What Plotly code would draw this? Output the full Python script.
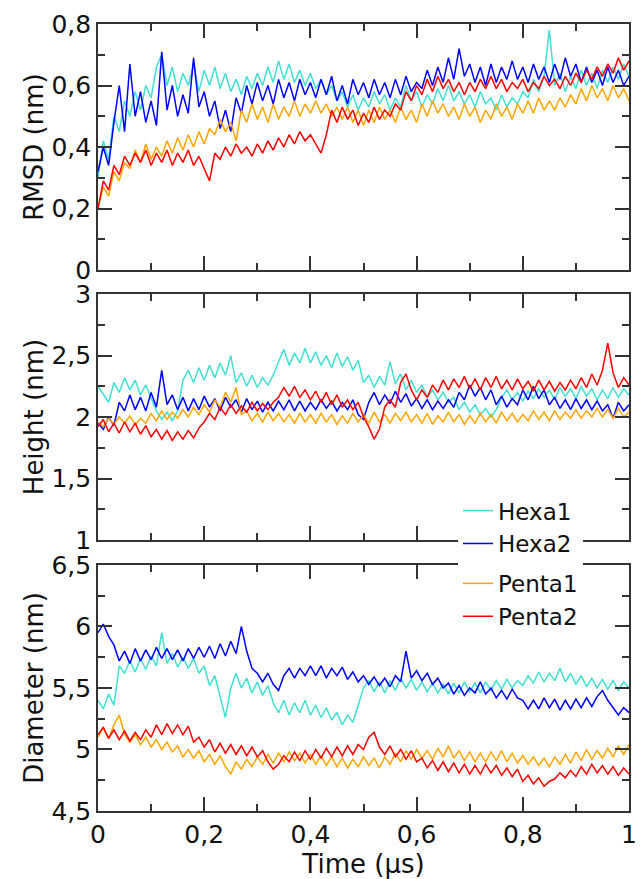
import plotly.graph_objects as go

time_us = [round(i * 0.01, 2) for i in range(101)]

rmsd_hexa1 = [0.30,0.42,0.36,0.50,0.45,0.55,0.50,0.58,0.52,0.60,0.56,0.66,0.70,0.60,0.66,0.58,0.64,0.60,0.67,0.58,
              0.65,0.60,0.66,0.59,0.64,0.58,0.62,0.57,0.63,0.59,0.64,0.60,0.66,0.61,0.68,0.62,0.67,0.61,0.65,0.60,
              0.64,0.59,0.62,0.57,0.60,0.55,0.58,0.53,0.57,0.52,0.56,0.53,0.58,0.54,0.57,0.52,0.56,0.53,0.60,0.55,
              0.58,0.53,0.57,0.54,0.59,0.55,0.60,0.55,0.58,0.54,0.57,0.53,0.58,0.54,0.56,0.52,0.57,0.53,0.56,0.54,
              0.58,0.56,0.62,0.58,0.63,0.78,0.60,0.64,0.58,0.63,0.59,0.65,0.60,0.64,0.59,0.65,0.61,0.66,0.62,0.67,0.63]
rmsd_hexa2 = [0.32,0.40,0.34,0.48,0.60,0.45,0.67,0.50,0.58,0.48,0.55,0.47,0.71,0.52,0.60,0.50,0.57,0.51,0.69,0.53,
              0.58,0.50,0.55,0.46,0.52,0.45,0.56,0.51,0.60,0.54,0.61,0.55,0.60,0.54,0.62,0.56,0.61,0.55,0.62,0.57,
              0.61,0.56,0.62,0.57,0.63,0.55,0.60,0.54,0.62,0.57,0.61,0.56,0.62,0.57,0.61,0.56,0.62,0.57,0.63,0.58,
              0.61,0.59,0.65,0.60,0.66,0.61,0.69,0.62,0.72,0.63,0.67,0.61,0.66,0.60,0.67,0.61,0.66,0.62,0.68,0.62,
              0.66,0.61,0.67,0.62,0.66,0.61,0.67,0.62,0.69,0.63,0.67,0.61,0.66,0.61,0.65,0.60,0.66,0.61,0.65,0.60,0.63]
rmsd_penta1 = [0.20,0.27,0.24,0.32,0.29,0.35,0.33,0.39,0.35,0.41,0.36,0.40,0.37,0.42,0.38,0.43,0.39,0.44,0.40,0.45,
               0.41,0.46,0.44,0.49,0.45,0.48,0.42,0.52,0.48,0.54,0.49,0.53,0.48,0.54,0.49,0.53,0.50,0.55,0.50,0.54,
               0.51,0.55,0.51,0.54,0.50,0.53,0.49,0.53,0.48,0.52,0.47,0.52,0.48,0.53,0.49,0.52,0.48,0.53,0.49,0.52,
               0.48,0.54,0.50,0.55,0.51,0.54,0.50,0.53,0.49,0.54,0.50,0.53,0.48,0.52,0.49,0.54,0.50,0.53,0.49,0.54,
               0.51,0.55,0.51,0.56,0.52,0.55,0.52,0.56,0.53,0.57,0.54,0.59,0.55,0.60,0.56,0.59,0.55,0.60,0.56,0.59,0.55]
rmsd_penta2 = [0.20,0.29,0.26,0.34,0.31,0.37,0.34,0.38,0.35,0.39,0.34,0.38,0.35,0.39,0.34,0.38,0.35,0.39,0.34,0.37,
               0.33,0.29,0.38,0.36,0.40,0.37,0.41,0.38,0.40,0.37,0.41,0.38,0.42,0.39,0.43,0.40,0.44,0.41,0.45,0.42,
               0.44,0.41,0.38,0.44,0.52,0.48,0.53,0.49,0.52,0.47,0.51,0.48,0.53,0.49,0.52,0.50,0.54,0.52,0.58,0.55,
               0.60,0.57,0.62,0.58,0.63,0.59,0.62,0.58,0.61,0.57,0.61,0.58,0.62,0.59,0.63,0.59,0.62,0.58,0.61,0.59,
               0.62,0.58,0.61,0.59,0.63,0.60,0.62,0.59,0.63,0.60,0.64,0.61,0.65,0.62,0.66,0.63,0.67,0.64,0.69,0.65,0.68]

height_hexa1 = [2.25,2.18,2.12,2.28,2.20,2.32,2.22,2.30,2.18,2.26,2.15,2.05,1.98,2.04,1.97,2.05,2.30,2.38,2.28,2.40,
                2.30,2.42,2.32,2.44,2.34,2.50,2.28,2.36,2.25,2.34,2.24,2.32,2.26,2.34,2.45,2.55,2.42,2.52,2.44,2.56,
                2.44,2.53,2.42,2.50,2.40,2.52,2.41,2.49,2.38,2.46,2.28,2.34,2.24,2.33,2.26,2.45,2.27,2.35,2.22,2.30,
                2.20,2.26,2.16,2.22,2.14,2.20,2.12,2.16,2.06,2.12,2.04,2.10,2.02,2.07,2.00,2.06,2.16,2.22,2.14,2.20,
                2.13,2.21,2.15,2.23,2.16,2.22,2.14,2.24,2.17,2.23,2.15,2.25,2.17,2.23,2.14,2.22,2.15,2.24,2.16,2.23,2.18]
height_hexa2 = [1.95,1.90,2.00,1.93,2.12,2.05,2.18,2.06,2.16,2.05,2.20,2.08,2.38,2.10,2.18,2.06,2.16,2.05,2.15,2.06,
                2.17,2.08,2.15,2.05,2.16,2.08,2.14,2.04,2.15,2.06,2.13,2.04,2.12,2.05,2.13,2.06,2.14,2.05,2.13,2.05,
                2.12,2.06,2.14,2.07,2.13,2.05,2.12,2.06,2.14,2.02,1.98,2.12,2.20,2.10,2.18,2.11,2.21,2.12,2.19,2.09,
                2.15,2.07,2.14,2.06,2.13,2.07,2.14,2.08,2.20,2.14,2.26,2.17,2.24,2.14,2.22,2.10,2.17,2.08,2.15,2.10,
                2.22,2.14,2.25,2.15,2.22,2.10,2.16,2.07,2.14,2.06,2.15,2.07,2.14,2.06,2.13,2.05,2.10,1.99,2.12,2.05,2.10]
height_penta1 = [1.96,1.92,1.99,1.94,2.00,1.95,2.01,1.94,1.99,1.95,2.03,1.97,2.05,1.98,2.04,1.99,2.06,2.00,2.08,2.02,
                 2.10,2.04,2.14,2.08,2.20,2.12,2.24,2.02,2.05,1.97,2.03,1.96,2.04,1.97,2.03,1.96,2.02,1.95,2.03,1.96,
                 2.02,1.95,2.03,1.96,2.02,1.94,2.01,1.95,2.03,1.96,2.02,1.95,2.04,1.96,2.02,1.95,2.03,1.97,2.04,1.96,
                 2.02,1.95,2.03,1.94,2.01,1.96,2.04,1.96,2.02,1.94,2.01,1.95,2.03,1.96,2.02,1.95,2.04,1.97,2.03,1.96,
                 2.02,1.97,2.05,1.98,2.04,1.97,2.05,1.98,2.04,1.99,2.06,1.99,2.05,2.00,2.07,2.00,2.06,1.99,2.07,2.00,2.04]
height_penta2 = [1.92,1.98,1.88,1.95,1.87,1.96,1.88,1.95,1.86,1.93,1.84,1.90,1.82,1.89,1.81,1.88,1.82,1.89,1.83,1.91,
                 1.96,2.03,1.98,2.08,2.02,2.10,2.03,2.09,2.04,2.12,2.05,2.11,2.06,2.12,2.16,2.24,2.17,2.25,2.16,2.22,
                 2.14,2.21,2.12,2.20,2.10,2.18,2.08,2.14,2.06,2.12,2.00,1.92,1.82,1.90,2.08,2.14,2.08,2.28,2.35,2.22,
                 2.14,2.22,2.16,2.26,2.20,2.30,2.22,2.31,2.24,2.33,2.23,2.31,2.22,2.32,2.24,2.33,2.23,2.30,2.22,2.31,
                 2.23,2.29,2.21,2.30,2.22,2.29,2.21,2.28,2.22,2.30,2.23,2.32,2.24,2.35,2.26,2.38,2.60,2.36,2.24,2.32,2.26]

diam_hexa1 = [5.40,5.33,5.45,5.36,5.68,5.62,5.72,5.63,5.74,5.65,5.76,5.68,5.95,5.70,5.78,5.67,5.75,5.66,5.74,5.62,
              5.68,5.52,5.60,5.42,5.26,5.50,5.62,5.50,5.58,5.46,5.55,5.44,5.52,5.38,5.30,5.40,5.28,5.38,5.30,5.40,
              5.28,5.36,5.26,5.34,5.24,5.30,5.20,5.28,5.22,5.36,5.50,5.56,5.47,5.55,5.46,5.56,5.48,5.58,5.50,5.57,
              5.48,5.55,5.47,5.54,5.46,5.53,5.45,5.54,5.46,5.55,5.47,5.54,5.46,5.55,5.48,5.56,5.49,5.57,5.50,5.56,
              5.52,5.60,5.54,5.63,5.55,5.62,5.56,5.66,5.55,5.62,5.53,5.60,5.51,5.58,5.50,5.57,5.49,5.56,5.48,5.55,5.50]
diam_hexa2 = [5.95,6.02,5.92,5.85,5.72,5.80,5.70,5.82,5.72,5.81,5.73,5.83,5.74,5.82,5.73,5.81,5.72,5.82,5.74,5.83,
              5.75,5.84,5.74,5.86,5.76,5.88,5.78,6.00,5.80,5.66,5.62,5.55,5.62,5.53,5.48,5.60,5.66,5.58,5.66,5.60,
              5.68,5.60,5.68,5.58,5.66,5.60,5.67,5.57,5.63,5.55,5.60,5.53,5.59,5.52,5.58,5.51,5.60,5.55,5.80,5.58,
              5.64,5.56,5.62,5.53,5.58,5.50,5.54,5.45,5.52,5.44,5.50,5.46,5.55,5.45,5.50,5.42,5.48,5.41,5.49,5.42,
              5.40,5.33,5.40,5.33,5.42,5.34,5.41,5.32,5.40,5.33,5.41,5.34,5.42,5.35,5.43,5.48,5.40,5.34,5.28,5.34,5.30]
diam_penta1 = [5.10,5.18,5.09,5.20,5.28,5.12,5.06,5.12,5.04,5.10,5.02,5.08,5.00,5.06,4.98,5.03,4.94,5.00,4.93,4.99,
               4.90,4.96,4.88,4.95,4.86,4.80,4.90,4.84,4.92,4.86,4.94,4.88,4.96,4.89,4.97,4.90,4.98,4.91,4.97,4.89,
               4.96,4.88,4.95,4.87,4.94,4.86,4.93,4.85,4.92,4.86,4.94,4.87,4.93,4.85,4.94,4.88,4.97,4.90,4.99,4.92,
               5.00,4.93,4.99,4.92,5.01,4.94,5.03,4.93,4.99,4.91,4.98,4.90,4.97,4.90,4.98,4.91,4.99,4.90,4.97,4.89,
               4.95,4.88,4.94,4.87,4.93,4.86,4.94,4.88,4.96,4.89,4.98,4.91,5.00,4.92,4.99,4.93,5.01,4.94,5.03,4.96,5.04]
diam_penta2 = [5.12,5.18,5.09,5.16,5.08,5.15,5.07,5.14,5.08,5.16,5.10,5.20,5.12,5.21,5.13,5.20,5.12,5.19,5.06,5.10,
               5.02,5.08,4.98,5.05,4.97,5.04,4.96,5.03,4.95,5.02,4.94,4.99,4.90,4.84,4.88,4.95,4.90,4.98,4.91,4.99,
               4.92,5.00,4.93,5.01,4.94,5.02,4.95,5.03,4.96,5.04,5.00,5.10,5.14,5.02,4.96,5.03,4.94,5.00,4.92,4.99,
               4.90,4.93,4.85,4.91,4.83,4.90,4.82,4.89,4.81,4.88,4.80,4.87,4.80,4.88,4.81,4.87,4.79,4.85,4.78,4.84,
               4.74,4.79,4.72,4.77,4.70,4.74,4.76,4.81,4.77,4.83,4.78,4.86,4.80,4.88,4.81,4.87,4.80,4.86,4.79,4.85,4.80]

series_names = ["Hexa1", "Hexa2", "Penta1", "Penta2"]
series_colors = ["#40E0D0", "#0000FF", "#FFA500", "#FF0000"]
groups = ["hexa", "hexa", "penta", "penta"]

panels = [
    ("x3", "y", [rmsd_hexa1, rmsd_hexa2, rmsd_penta1, rmsd_penta2]),
    ("x2", "y2", [height_hexa1, height_hexa2, height_penta1, height_penta2]),
    ("x", "y3", [diam_hexa1, diam_hexa2, diam_penta1, diam_penta2]),
]

fig = go.Figure()
for p, (xax, yax, data) in enumerate(panels):
    for i, ys in enumerate(data):
        fig.add_trace(go.Scatter(
            x=time_us, y=ys, mode="lines", name=series_names[i],
            line=dict(color=series_colors[i], width=1.5),
            xaxis=xax, yaxis=yax, legendgroup=groups[i], showlegend=(p == 0),
        ))

FONT = "DejaVu Sans"
AX_COLOR = "#333"
axis_common = dict(
    showline=True, linecolor=AX_COLOR, linewidth=1.6, mirror="ticks",
    ticks="inside", ticklen=14, tickwidth=1.6, tickcolor=AX_COLOR,
    showgrid=False, zeroline=False,
    tickfont=dict(family=FONT, size=25, color="#111"),
)
xminor = dict(ticks="inside", ticklen=7, dtick=0.1, tick0=0, tickcolor=AX_COLOR, tickwidth=1.6)
yminor_r = dict(ticks="inside", ticklen=7, dtick=0.1, tick0=0, tickcolor=AX_COLOR, tickwidth=1.6)
yminor_h = dict(ticks="inside", ticklen=7, dtick=0.25, tick0=1, tickcolor=AX_COLOR, tickwidth=1.6)
yminor_d = dict(ticks="inside", ticklen=7, dtick=0.25, tick0=4.5, tickcolor=AX_COLOR, tickwidth=1.6)
title_font = dict(family=FONT, size=26, color="#111")

fig.update_layout(
    width=641, height=879,
    margin=dict(l=98, r=4, t=24, b=68),
    paper_bgcolor="white", plot_bgcolor="white",
    separators=",.",
    font=dict(family=FONT, color="#111"),
    xaxis=dict(range=[0, 1], dtick=0.2, tick0=0, anchor="y3", minor=xminor,
               ticklabeloverflow="allow",
               title=dict(text="Time (µs)", font=title_font, standoff=0),
               **axis_common),
    xaxis2=dict(range=[0, 1], dtick=0.2, tick0=0, anchor="y2", matches="x", minor=xminor,
                showticklabels=False, **axis_common),
    xaxis3=dict(range=[0, 1], dtick=0.2, tick0=0, anchor="y", matches="x", minor=xminor,
                showticklabels=False, **axis_common),
    yaxis=dict(domain=[0.6874, 1.0], range=[0, 0.8], dtick=0.2, tick0=0, anchor="x3",
               minor=yminor_r, ticklabeloverflow="allow",
               title=dict(text="RMSD (nm)", font=title_font, standoff=0),
               **axis_common),
    yaxis2=dict(domain=[0.3443, 0.6569], range=[1, 3], dtick=0.5, tick0=1, anchor="x2",
                minor=yminor_h, ticklabeloverflow="allow",
                title=dict(text="Height (nm)", font=title_font, standoff=0),
                **axis_common),
    yaxis3=dict(domain=[0.0, 0.3126], range=[4.5, 6.5], dtick=0.5, tick0=4.5, anchor="x",
                minor=yminor_d, ticklabeloverflow="allow",
                title=dict(text="Diameter (nm)", font=title_font, standoff=0),
                **axis_common),
    legend=dict(x=0.678, y=0.409, xanchor="left", yanchor="top",
                bgcolor="white", borderwidth=0,
                font=dict(family=FONT, size=23, color="#111"),
                tracegroupgap=7, itemwidth=30),
    showlegend=True,
)

# remove the browser's default page margin so the 641x879 figure fills the window exactly
fig.write_html("out.html",
               config={"displayModeBar": False},
               post_script="document.body.style.margin='0';document.body.style.overflow='hidden';")
